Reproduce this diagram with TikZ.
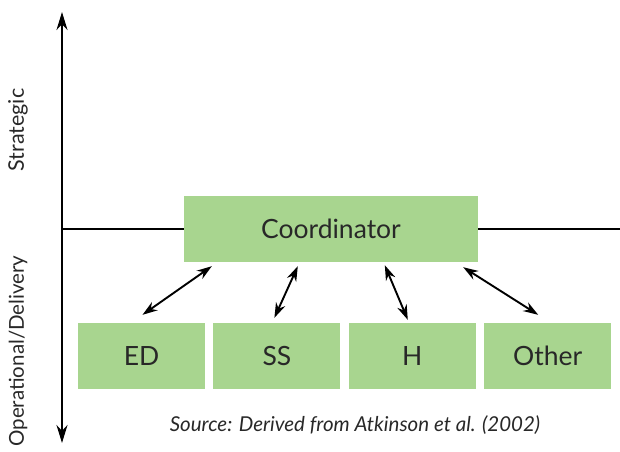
\documentclass[tikz,border=0pt]{standalone}
\usepackage{fontspec}
\setmainfont{Lato}
\usetikzlibrary{positioning, arrows.meta}

\definecolor{boxgreen}{RGB}{168,213,143}
\definecolor{inkgrey}{RGB}{40,40,40}

\begin{document}
\begin{tikzpicture}[x=1pt, y=-1pt, node distance=8pt, >={Stealth[length=15pt, width=10pt]}]
    \tikzset{
        unit/.style={fill=boxgreen, minimum width=127pt, minimum height=66pt, inner sep=0pt,
            text=inkgrey, font=\fontsize{26.5}{30}\selectfont},
        link/.style={<->, line width=1.9pt},
        axislabel/.style={rotate=90, text=inkgrey, font=\fontsize{21.5}{26}\selectfont}
    }
    \useasboundingbox (0,0) rectangle (620,451);

    % Axes
    \coordinate (top) at (62,12);
    \coordinate (bottom) at (62,443);
    \coordinate (level) at (62,229);
    \coordinate (edge) at (620,229);
    \draw[<->, line width=2pt, >={Stealth[length=18pt, width=11pt]}] (bottom) -- (top);
    \draw[line width=1.8pt] (level) -- (edge);

    \node[axislabel] (strat) at (18,130) {Strategic};
    \node[axislabel, anchor=east, font=\fontsize{20.5}{24}\selectfont] (oper) at (18,252) {Operational/Delivery};

    % Coordinator and the units under it
    \node[unit, minimum width=294pt] (coord) at (331,229) {Coordinator};
    \node[unit] (ed) at (141.5,356) {ED};
    \node[unit, right=of ed] (ss) {SS};
    \node[unit, right=of ss] (h) {H};
    \node[unit, right=of h] (other) {Other};

    % Two-way links
    \draw[link] ([xshift=1pt, yshift=8pt]ed.north) -- ([xshift=28pt, yshift=-4pt]coord.south west);
    \draw[link] ([xshift=-2.5pt, yshift=5pt]ss.north) -- ([xshift=114pt, yshift=-4pt]coord.south west);
    \draw[link] ([xshift=-4.5pt, yshift=3pt]h.north) -- ([xshift=201pt, yshift=-3pt]coord.south west);
    \draw[link] ([xshift=-9.5pt, yshift=8pt]other.north) -- ([xshift=-15pt, yshift=-5pt]coord.south east);

    \node[text=inkgrey, font=\itshape\fontsize{20.5}{24}\selectfont] (src) at (355,425)
        {Source: Derived from Atkinson et al. (2002)};
\end{tikzpicture}
\end{document}
